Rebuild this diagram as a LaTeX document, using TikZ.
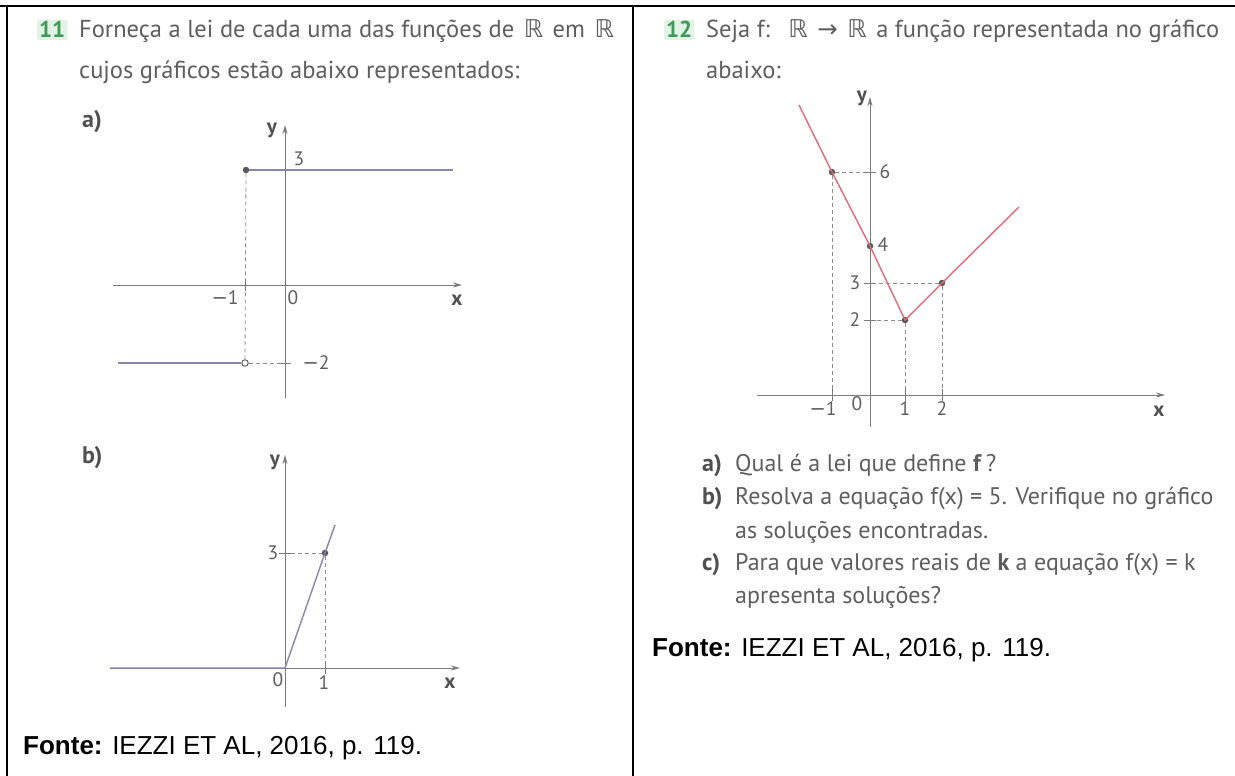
\documentclass[tikz,border=0pt]{standalone}
\usepackage{fontspec}
\setmainfont{PT Sans}
\newfontfamily\dvfont{DejaVu Sans}
\newfontfamily\arialfont{Liberation Sans}
\usetikzlibrary{arrows.meta}
\definecolor{txt}{HTML}{5E5E5E}
\definecolor{labc}{HTML}{505050}
\definecolor{axisc}{HTML}{7A7A7A}
\definecolor{fa}{HTML}{8886AE}
\definecolor{fred}{HTML}{E46A78}
\definecolor{numg}{HTML}{3F9A58}
\definecolor{numbg}{HTML}{E2F3E6}
\definecolor{dotc}{HTML}{585858}
\newcommand{\myRR}{{\dvfont\hspace{3pt}ℝ\hspace{3pt}}}
\newcommand{\myarr}{{\dvfont →}}
\newcommand{\mymin}{{\dvfont −}}
\tikzset{
  axisline/.style={draw=axisc, line width=1pt, -{Stealth[length=9pt,width=5pt]}},
  ticklab/.style={text=txt, font=\fontsize{19.5}{19.5}\selectfont, inner sep=0pt},
  axlab/.style={text=labc, font=\bfseries\fontsize{21}{21}\selectfont, inner sep=0pt},
  guide/.style={draw=axisc!85, dash pattern=on 4pt off 3pt, line width=0.8pt},
  tickmark/.style={draw=axisc, line width=1pt},
  fline/.style={draw=fa, line width=1.4pt},
  rline/.style={draw=fred, line width=1.4pt},
  dotf/.style={circle, fill=dotc, inner sep=0pt, minimum size=6.5pt},
  doto/.style={circle, draw=dotc, fill=white, inner sep=0pt, minimum size=6.5pt, line width=0.9pt},
  body/.style={text=txt, font=\fontsize{24.5}{24.5}\selectfont, inner sep=0pt, anchor=base west},
  qtext/.style={text=txt, font=\fontsize{24}{24}\selectfont, inner sep=0pt, anchor=base west},
  qlab/.style={text=labc, font=\bfseries\fontsize{24}{24}\selectfont, inner sep=0pt, anchor=base west},
  plab/.style={text=labc, font=\bfseries\fontsize{24}{24}\selectfont, inner sep=0pt, anchor=base west},
  fonte/.style={text=black, font=\arialfont\fontsize{26}{26}\selectfont, inner sep=0pt, anchor=base west},
  numbox/.style={fill=numbg, text=numg, font=\bfseries\fontsize{23}{23}\selectfont, inner sep=2pt, rounded corners=2pt, anchor=base west},
  rule/.style={draw=black, line width=2.2pt}
}
\begin{document}
\begin{tikzpicture}[x=1pt,y=-1pt]
\useasboundingbox[fill=white] (0,0) rectangle (1235,776);

% table rules
\draw[rule] (0,6) -- (1235,6);
\draw[rule] (7,6) -- (7,776);
\draw[rule] (633,6) -- (633,776);

% ---------- left panel text ----------
\node[numbox] (n11) at (37,38) {11};
\node[body] (h11a) at (79,38) {Forneça a lei de cada uma das funções de \myRR{} em \myRR};
\node[body] (h11b) at (79,78) {cujos gráficos estão abaixo representados:};
\node[plab] (la) at (82,127) {a)};
\node[plab] (lb) at (82,463) {b)};
\node[fonte] (f1) at (23,754) {\textbf{Fonte:} IEZZI ET AL, 2016, p. 119.};

% ---------- graph a ----------
\coordinate (axL) at (113,285);
\coordinate (axR) at (462,285);
\coordinate (ayB) at (285,398);
\coordinate (ayT) at (285,125);
\draw[axisline] (axL) -- (axR);
\draw[axisline] (ayB) -- (ayT);
\node[dotf] (a3) at (246,170) {};
\coordinate (aTopEnd) at (453,170);
\node[doto] (am2) at (245,363) {};
\coordinate (aBotStart) at (118,363);
\coordinate (aYm2) at (285,363);
\coordinate (aXm1) at (245,285);
\draw[guide] (a3) -- (am2);
\draw[guide] (am2) -- (aYm2);
\draw[fline] (a3) -- (aTopEnd);
\draw[fline] (aBotStart) -- (am2.west);
\draw[tickmark] (245,279) -- (245,291);
\draw[tickmark] (279,363) -- (291,363);
\node[axlab] (ay) at (272,130) {y};
\node[axlab] (ax) at (457,300) {x};
\node[ticklab] (a3l) at (299,159) {3};
\node[ticklab] (am1l) at (225,298) {\mymin 1};
\node[ticklab] (a0l) at (293,298) {0};
\node[ticklab] (am2l) at (316,363) {\mymin 2};

% ---------- graph b ----------
\coordinate (bxL) at (110,668);
\coordinate (bO) at (285,668);
\coordinate (bxR) at (460,668);
\coordinate (byB) at (285,707);
\coordinate (byT) at (285,455);
\coordinate (bEnd) at (335,525);
\draw[axisline] (bxL) -- (bxR);
\draw[axisline] (byB) -- (byT);
\node[dotf] (b13) at (325,553) {};
\coordinate (bY3) at (291,553);
\coordinate (bX1) at (325,668);
\draw[guide] (bY3) -- (b13);
\draw[guide] (b13) -- (bX1);
\draw[fline] (bxL) -- (bO) -- (b13.center) -- (bEnd);
\draw[tickmark] (279,553) -- (291,553);
\draw[tickmark] (325,662) -- (325,674);
\node[axlab] (by) at (275,462) {y};
\node[axlab] (bx) at (450,683) {x};
\node[ticklab] (b3l) at (273,553) {3};
\node[ticklab] (b0l) at (278,680) {0};
\node[ticklab] (b1l) at (324,683) {1};

% ---------- right panel text ----------
\node[numbox] (n12) at (664,38) {12};
\node[body] (h12a) at (706,38) {Seja f: \ \myRR{} \myarr{} \myRR{} a função representada no gráfico};
\node[body] (h12b) at (706,78) {abaixo:};

% ---------- graph 12 ----------
\coordinate (cxL) at (757,395);
\coordinate (cxR) at (1165,395);
\coordinate (cyB) at (870,427);
\coordinate (cyT) at (870,97);
\draw[axisline] (cxL) -- (cxR);
\draw[axisline] (cyB) -- (cyT);
\node[dotf] (P) at (832,172) {};
\node[dotf] (Q) at (870,246) {};
\node[dotf] (R) at (905,320) {};
\node[dotf] (S) at (942,283) {};
\coordinate (cStart) at (799,105);
\coordinate (cEnd) at (1019,207);
\coordinate (cY6) at (870,172);
\coordinate (cY2) at (870,320);
\coordinate (cY3) at (870,283);
\coordinate (cXm1) at (832,395);
\coordinate (cX1) at (905,395);
\coordinate (cX2) at (942,395);
\draw[guide] (P) -- (cY6);
\draw[guide] (P) -- (cXm1);
\draw[guide] (R) -- (cY2);
\draw[guide] (R) -- (cX1);
\draw[guide] (S) -- (cY3);
\draw[guide] (S) -- (cX2);
\draw[rline] (cStart) -- (P.center) -- (Q.center) -- (R.center) -- (S.center) -- (cEnd);
\foreach \yy in {172,283,320} \draw[tickmark] (864,\yy) -- (876,\yy);
\foreach \xx in {832,905,942} \draw[tickmark] (\xx,389) -- (\xx,401);
\node[axlab] (cy) at (862,98) {y};
\node[axlab] (cx) at (1159,411) {x};
\node[ticklab] (c6l) at (885,172) {6};
\node[ticklab] (c4l) at (883,245) {4};
\node[ticklab] (c3l) at (855,283) {3};
\node[ticklab] (c2l) at (855,320) {2};
\node[ticklab] (cm1l) at (823,409) {\mymin 1};
\node[ticklab] (c0l) at (857,404) {0};
\node[ticklab] (c1l) at (905,409) {1};
\node[ticklab] (c2xl) at (942,409) {2};

% ---------- questions ----------
\node[qlab] (qa) at (702,471) {a)};
\node[qtext] (qat) at (735,471) {Qual é a lei que define \textbf{f}\,?};
\node[qlab] (qb) at (702,504) {b)};
\node[qtext] (qbt) at (735,504) {Resolva a equação f(x) = 5. Verifique no gráfico};
\node[qtext] (qbt2) at (735,538) {as soluções encontradas.};
\node[qlab] (qc) at (702,570) {c)};
\node[qtext] (qct) at (735,570) {Para que valores reais de \textbf{k} a equação f(x) = k};
\node[qtext] (qct2) at (735,603) {apresenta soluções?};
\node[fonte] (f2) at (652,656) {\textbf{Fonte:} IEZZI ET AL, 2016, p. 119.};
\end{tikzpicture}
\end{document}
